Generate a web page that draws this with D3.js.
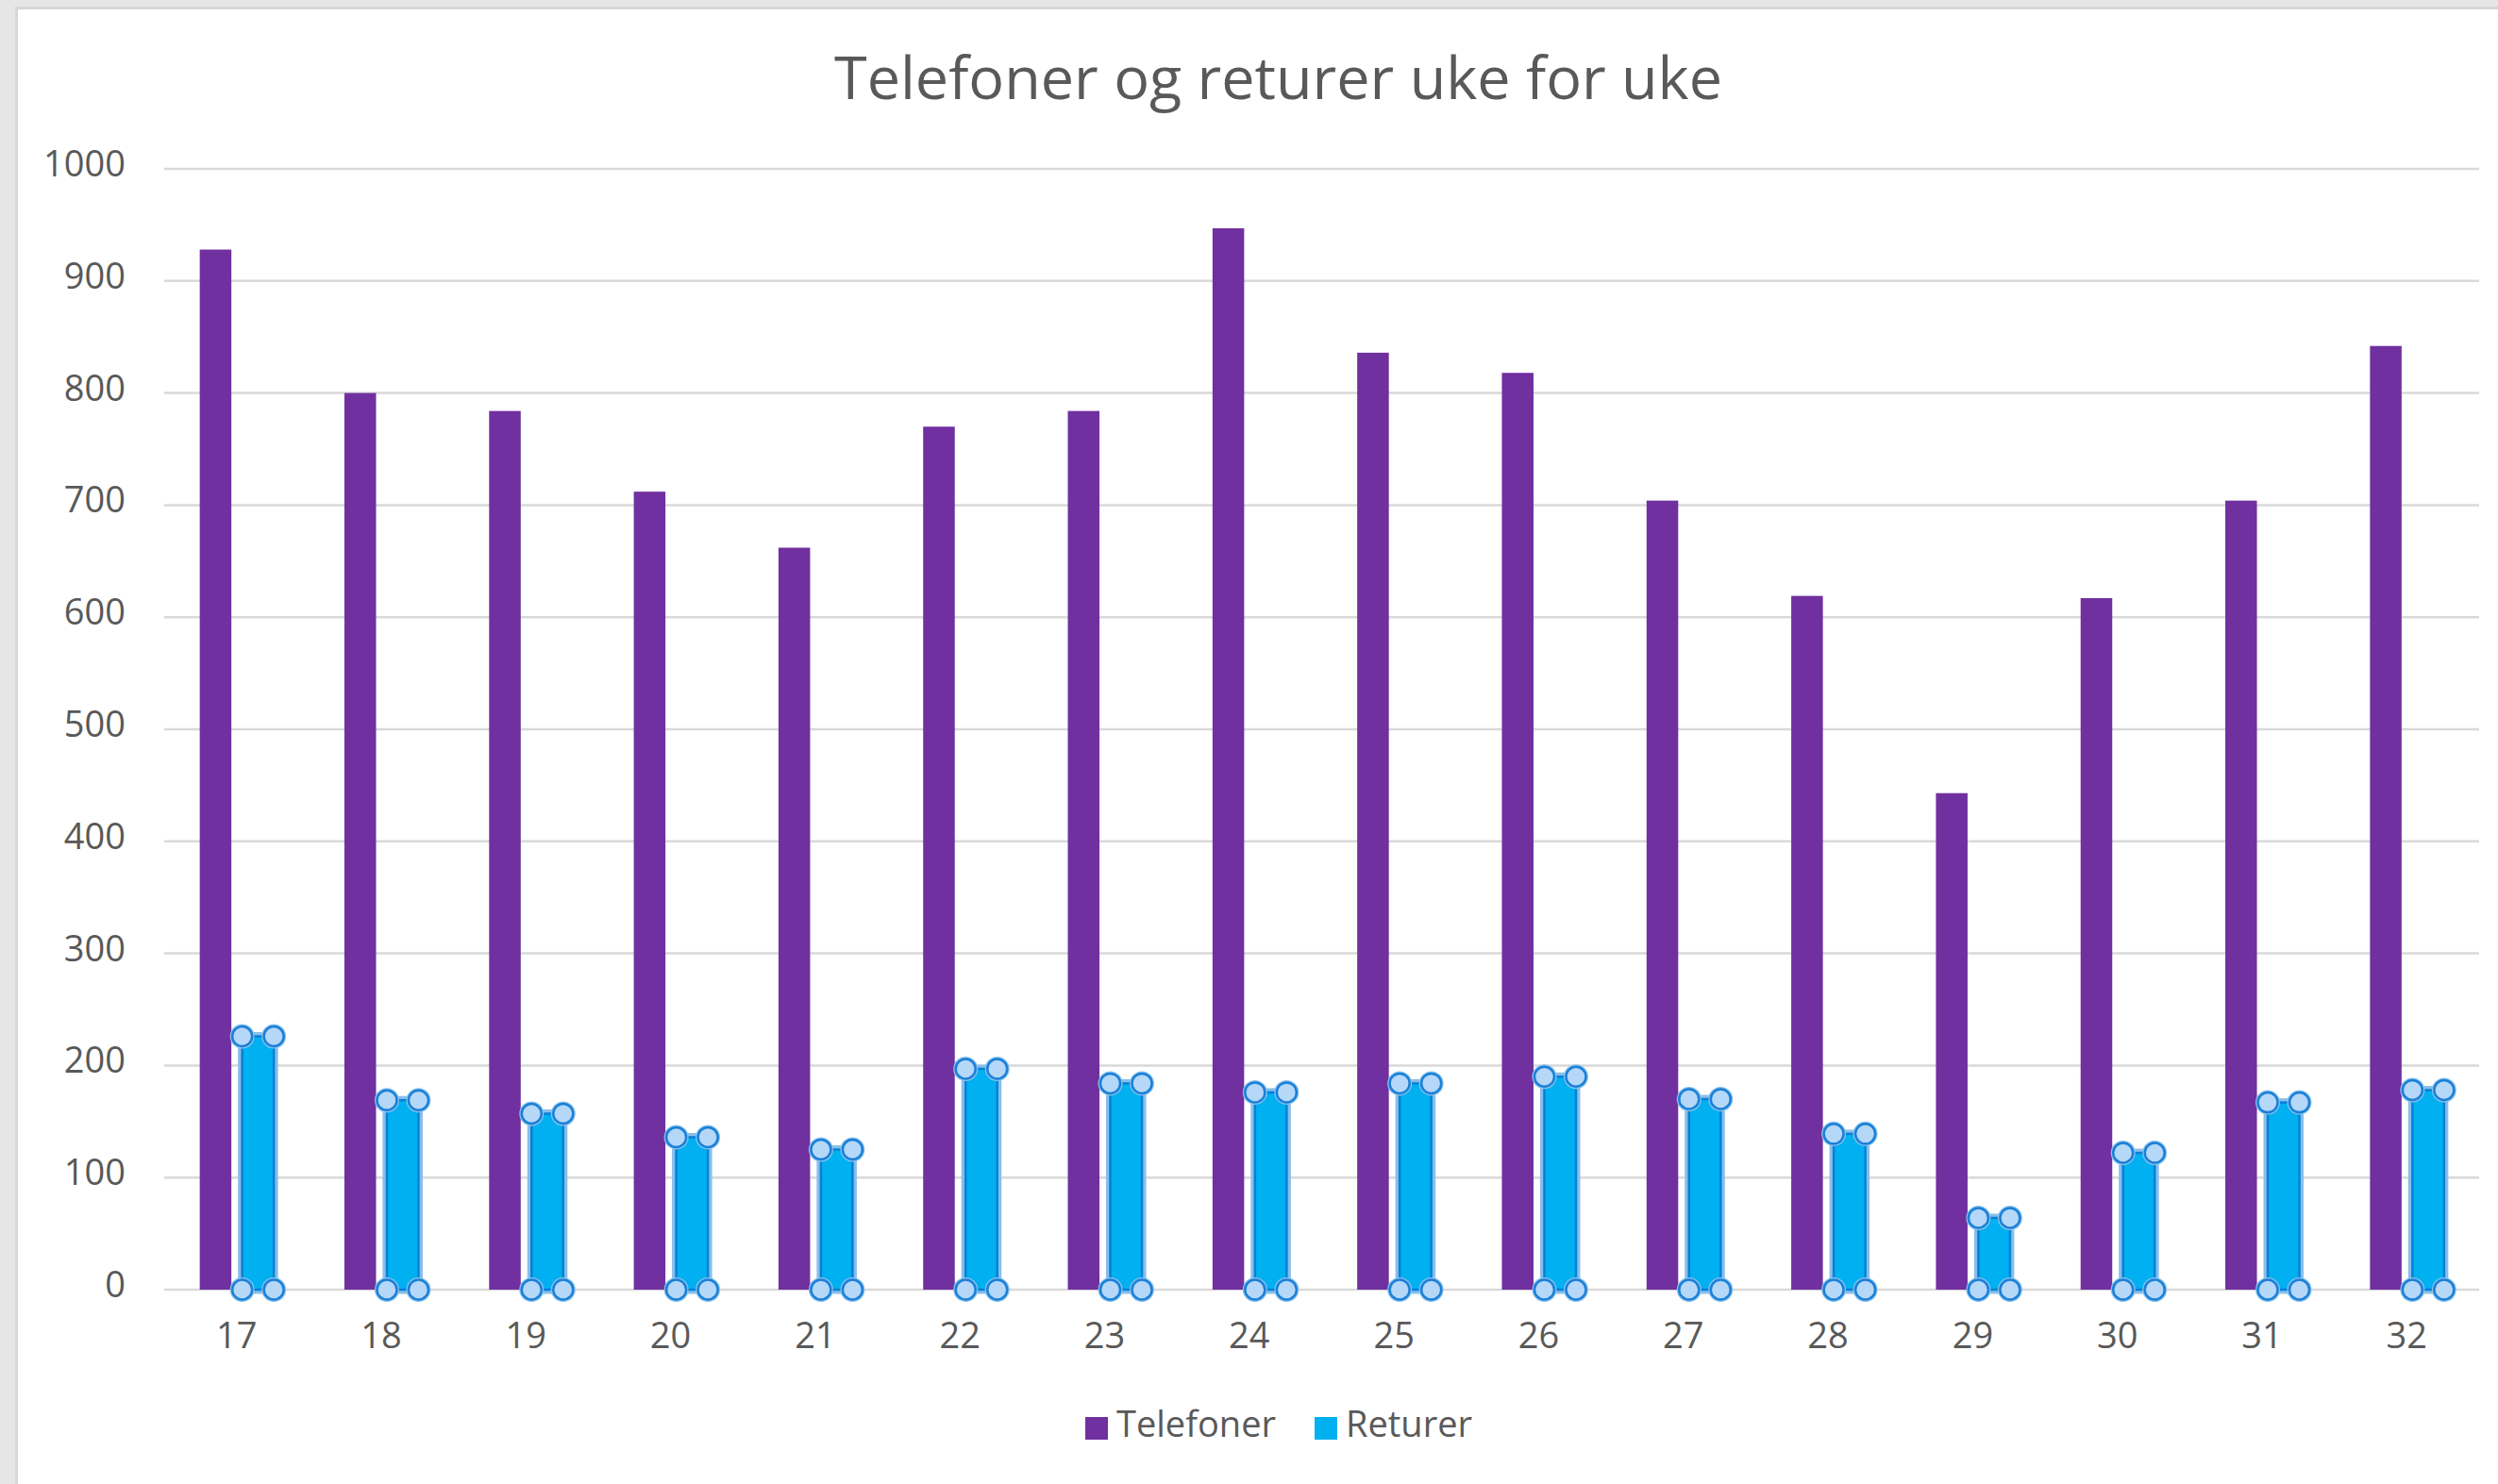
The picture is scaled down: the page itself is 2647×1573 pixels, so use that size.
<!DOCTYPE html>
<html><head><meta charset="utf-8">
<script src="https://cdn.jsdelivr.net/npm/d3@7"></script>
<style>html,body{margin:0;padding:0;background:#fff;overflow:hidden}</style>
</head><body>
<svg id="c" width="2647" height="1573"></svg>
<script>
const weeks = ["17","18","19","20","21","22","23","24","25","26","27","28","29","30","31","32"];
const telefoner = [928, 800, 784, 712, 662, 770, 784, 947, 836, 818, 704, 619, 443, 617, 704, 842];
const returer = [226, 169, 157, 136, 125, 197, 184, 176, 184, 190, 170, 139, 64, 122, 167, 178];
const yTicks = [0,100,200,300,400,500,600,700,800,900,1000];
const seriesNames = ["Telefoner","Returer"];
const seriesColors = ["#7030a0","#00b0f0"];
const title = "Telefoner og returer uke for uke";

const W = 2647, H = 1573;
const svg = d3.select("#c");
const font = "'Open Sans', 'Noto Sans', sans-serif";
const txt = "#595959";

// window frame
svg.append("rect").attr("width", W).attr("height", H).attr("fill", "#e6e6e6");
svg.append("rect").attr("x", 19).attr("y", 10).attr("width", W - 19).attr("height", H - 10).attr("fill", "#fff");
svg.append("line").attr("x1", 17.5).attr("x2", 17.5).attr("y1", 8).attr("y2", H).attr("stroke", "#d6d6d6").attr("stroke-width", 3);
svg.append("line").attr("x1", 16).attr("x2", W).attr("y1", 8.5).attr("y2", 8.5).attr("stroke", "#d6d6d6").attr("stroke-width", 3);

const x = d3.scaleBand().domain(weeks).range([174, 2627]).padding(0);
const xs = d3.scaleBand().domain(seriesNames).range([-39, 39.5]).paddingInner(0.255);
const y = d3.scaleLinear().domain([0, 1000]).range([1367, 179]);

// gridlines
svg.append("g").selectAll("line").data(yTicks).join("line")
  .attr("x1", 174).attr("x2", 2627)
  .attr("y1", d => y(d)).attr("y2", d => y(d))
  .attr("stroke", "#d9d9d9").attr("stroke-width", 2.5);

// y labels
svg.append("g").selectAll("text").data(yTicks).join("text")
  .attr("x", 133).attr("y", d => y(d) + 8)
  .attr("text-anchor", "end")
  .attr("font-family", font).attr("font-size", 38).attr("fill", txt)
  .text(d => d);

// x labels
svg.append("g").selectAll("text").data(weeks).join("text")
  .attr("x", d => x(d) + x.bandwidth() / 2).attr("y", 1429)
  .attr("text-anchor", "middle")
  .attr("font-family", font).attr("font-size", 38).attr("fill", txt)
  .text(d => d);

const cx = d => x(d) + x.bandwidth() / 2;

// Telefoner bars
svg.append("g").selectAll("rect").data(weeks).join("rect")
  .attr("x", d => cx(d) + xs("Telefoner"))
  .attr("width", xs.bandwidth())
  .attr("y", (d, i) => y(telefoner[i]))
  .attr("height", (d, i) => y(0) - y(telefoner[i]))
  .attr("fill", seriesColors[0]);

// Returer bars (selected look)
const rg = svg.append("g");
weeks.forEach((d, i) => {
  const x0 = cx(d) + xs("Returer"), x1 = x0 + xs.bandwidth();
  const yt = y(returer[i]), yb = y(0);
  rg.append("rect").attr("x", x0 - 4.5).attr("y", yt - 4.5).attr("width", x1 - x0 + 9).attr("height", yb - yt + 9)
    .attr("fill", "#86bfea");
  rg.append("rect").attr("x", x0).attr("y", yt).attr("width", x1 - x0).attr("height", yb - yt)
    .attr("fill", seriesColors[1]).attr("stroke", "#0a7fd6").attr("stroke-width", 2.5);
  [[x0, yt], [x1, yt], [x0, yb], [x1, yb]].forEach(([hx, hy]) => {
    rg.append("circle").attr("cx", hx).attr("cy", hy).attr("r", 13).attr("fill", "#8cc2ec");
    rg.append("circle").attr("cx", hx).attr("cy", hy).attr("r", 10.5)
      .attr("fill", "#b5d7f8").attr("stroke", "#1a80d8").attr("stroke-width", 2.5);
  });
});

// title
svg.append("text").attr("x", 1354.5).attr("y", 105).attr("text-anchor", "middle")
  .attr("font-family", font).attr("font-size", 63).attr("fill", txt)
  .attr("textLength", 941).attr("lengthAdjust", "spacingAndGlyphs")
  .text(title);

// legend
const legendX = [1150, 1393];
const lg = svg.append("g");
seriesNames.forEach((s, i) => {
  lg.append("rect").attr("x", legendX[i]).attr("y", 1502).attr("width", 24).attr("height", 24).attr("fill", seriesColors[i]);
  lg.append("text").attr("x", legendX[i] + 33).attr("y", 1523)
    .attr("font-family", font).attr("font-size", 38).attr("fill", txt).text(s);
});
</script>
</body></html>
